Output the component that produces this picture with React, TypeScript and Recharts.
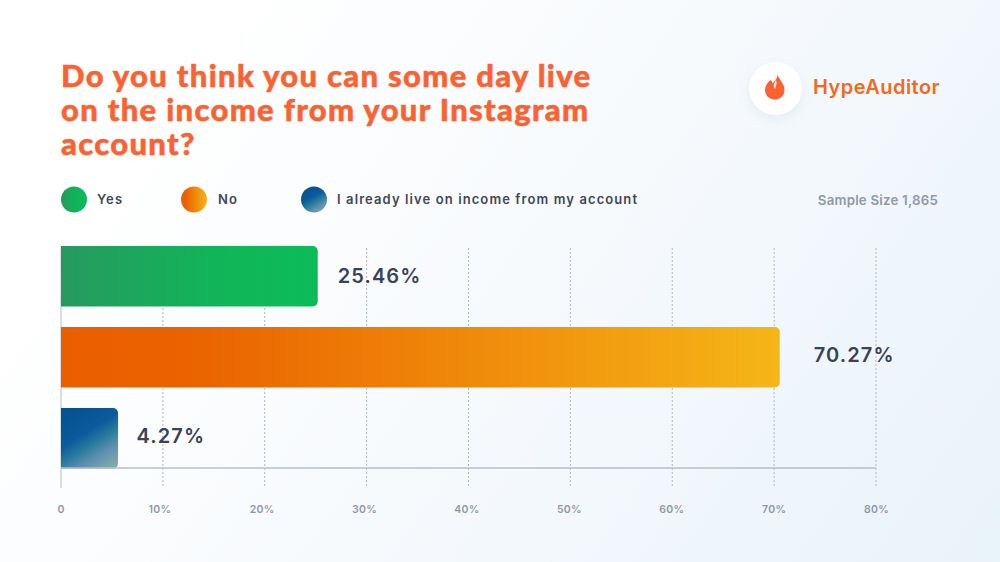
import React from "react";
import { BarChart, Bar, XAxis, YAxis, CartesianGrid, Cell, LabelList } from "recharts";

const categories = ["Yes", "No", "I already live on income from my account"];
const barLengths = [25.2, 70.55, 5.6];
const valueLabels = ["25.46%", "70.27%", "4.27%"];
const xTicks = [0, 10, 20, 30, 40, 50, 60, 70, 80];
const titleLines = ["Do you think you can some day live", "on the income from your Instagram", "account?"];
const sampleText = "Sample Size 1,865";
const brand = "HypeAuditor";

const gradientIds = ["gradYes", "gradNo", "gradLive"];
const rows = categories.map((name, i) => ({ name, value: barLengths[i], label: valueLabels[i] }));
const labelFont = "'Inter', 'Noto Sans', sans-serif";

function Gradients() {
  return (
    <defs>
      <linearGradient id="gradYes" x1="0" y1="0" x2="1" y2="0">
        <stop offset="0" stopColor="#27995f" />
        <stop offset="0.6" stopColor="#11b559" />
        <stop offset="1" stopColor="#0cbb58" />
      </linearGradient>
      <linearGradient id="gradNo" x1="0" y1="0" x2="1" y2="0">
        <stop offset="0" stopColor="#ea5e00" />
        <stop offset="0.2" stopColor="#ea6400" />
        <stop offset="1" stopColor="#f5b617" />
      </linearGradient>
      <linearGradient id="gradLive" x1="0.2" y1="0" x2="0.8" y2="1">
        <stop offset="0" stopColor="#06528f" />
        <stop offset="0.4" stopColor="#0c5a9c" />
        <stop offset="0.6" stopColor="#2a7c9c" />
        <stop offset="0.78" stopColor="#5f8fb0" />
        <stop offset="1" stopColor="#7ea9a8" />
      </linearGradient>
    </defs>
  );
}

function GridLine(props: any) {
  const { x1, x2, y1, y2 } = props;
  const first = Math.abs(x1 - 61) < 1;
  return (
    <line
      x1={x1}
      x2={x2}
      y1={first ? y1 + 10 : y1 + 12}
      y2={y2 + 20}
      stroke={first ? "#b3bfcc" : "#b0b8c3"}
      strokeWidth={1}
      strokeDasharray={first ? undefined : "2 2"}
    />
  );
}

function Tick(props: any) {
  const { x, y, payload } = props;
  const v = payload.value;
  const text = v === 0 ? "0" : `${v}%`;
  const nudge = v === 0 ? 0 : (v - 70) * 0.05;
  return (
    <text x={x + nudge} y={y + 37} textAnchor="middle" fontFamily="'Inter', sans-serif" fontSize={10.5} fontWeight={600} letterSpacing={0.3} fill="#8f98a6">
      {text}
    </text>
  );
}

function ValueLabel(props: any) {
  const { x, y, width, height, index } = props;
  const gap = index === 1 ? 34 : index === 2 ? 18.5 : 20;
  const lift = index === 0 ? 0.5 : 2.5;
  return (
    <text x={x + width + gap} y={y + height / 2 - lift} dominantBaseline="central" fontFamily={labelFont} fontSize={20} fontWeight={600} letterSpacing={1.1} fill="#3a4254">
      {valueLabels[index]}
    </text>
  );
}

export default function App() {
  return (
    <div style={{ position: "absolute", left: 0, top: 0, width: 1000, height: 562, overflow: "hidden", background: "linear-gradient(125deg, #ffffff 15%, #f7fafd 50%, #e9f3fa 100%)" }}>
      <div style={{ position: "absolute", left: 61, top: 58, fontFamily: "Lato, sans-serif", fontWeight: 900, fontSize: 31, lineHeight: "34px", letterSpacing: 1.3, WebkitTextStroke: "0.5px #fb6232", color: "#fb6232", whiteSpace: "nowrap" }}>
        {titleLines.map((l) => (
          <div key={l}>{l}</div>
        ))}
      </div>

      <div style={{ position: "absolute", left: 749, top: 62, width: 53, height: 53, borderRadius: "50%", background: "#fff", boxShadow: "0 4px 12px rgba(120,150,180,0.12)" }} />
      <svg style={{ position: "absolute", left: 760, top: 70 }} width="32" height="34" viewBox="0 0 32 34">
        <path d="M17 3.5C18.5 8 14.5 10 13 13.5C12.3 11.8 11.8 11 10.5 10C7 13 5 16.5 5 20C5 25.8 9.6 29.5 15 29.5C20.6 29.5 24.5 25.5 24.5 20C24.5 13 19 10 17 3.5Z" fill="#fb6232" />
        <path d="M15.5 9.5C15.8 12 13.5 13.5 13.7 16C13.8 17.5 14.6 18.5 15.3 18.8C15 17 16.5 15.5 16.5 13.2C16.5 11.8 16.1 10.5 15.5 9.5Z" fill="#ffffff" />
      </svg>
      <div style={{ position: "absolute", left: 813, top: 74, fontFamily: "'Inter', sans-serif", fontWeight: 600, fontSize: 20, lineHeight: "26px", letterSpacing: 0.45, color: "#f2691b" }}>{brand}</div>

      <svg style={{ position: "absolute", left: 0, top: 0 }} width="1000" height="240">
        <Gradients />
        {[61, 181, 301].map((x, i) => (
          <circle key={i} cx={x + 13} cy={199.5} r={13} fill={`url(#${gradientIds[i]})`} />
        ))}
      </svg>
      {categories.map((c, i) => (
        <div key={c} style={{ position: "absolute", left: [97, 218, 337][i], top: 189, fontFamily: "'Inter', sans-serif", fontWeight: 600, fontSize: 13, lineHeight: "20px", letterSpacing: 1.1, color: "#3f4759", whiteSpace: "nowrap" }}>
          {c}
        </div>
      ))}
      <div style={{ position: "absolute", right: 62, top: 190, fontFamily: "'Inter', sans-serif", fontWeight: 600, fontSize: 13.3, lineHeight: "20px", letterSpacing: 0.2, color: "#8f99a8", whiteSpace: "nowrap" }}>{sampleText}</div>

      <div style={{ position: "absolute", left: 0, top: 0 }}>
        <BarChart width={1000} height={562} data={rows} layout="vertical" margin={{ top: 236, right: 124, bottom: 64, left: 61 }} barSize={60.5}>
          <Gradients />
          <CartesianGrid horizontal={false} vertical={(p: any) => <GridLine {...p} />} syncWithTicks />
          <XAxis
            type="number"
            domain={[0, 80]}
            ticks={xTicks}
            interval={0}
            axisLine={{ stroke: "#b3bfcc", strokeWidth: 1.5 }}
            tickLine={false}
            tick={<Tick />}
          />
          <YAxis type="category" dataKey="name" hide padding={{ top: 0, bottom: -11 }} />
          <Bar dataKey="value" radius={[0, 5, 5, 0]} isAnimationActive={false}>
            {rows.map((r, i) => (
              <Cell key={r.name} fill={`url(#${gradientIds[i]})`} />
            ))}
            <LabelList dataKey="label" content={<ValueLabel />} />
          </Bar>
        </BarChart>
      </div>
    </div>
  );
}
